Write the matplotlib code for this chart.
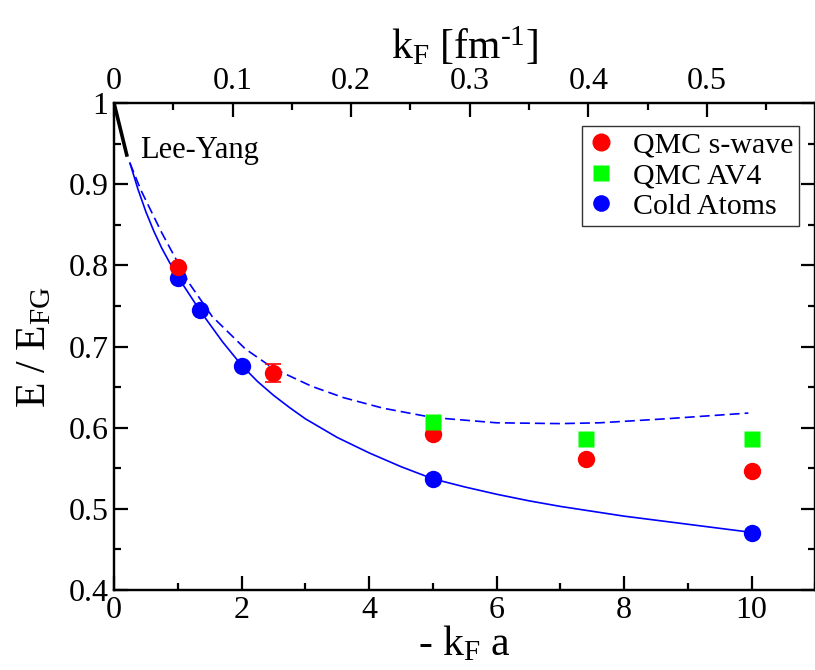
import matplotlib
matplotlib.use("Agg")
import matplotlib.pyplot as plt
from matplotlib.lines import Line2D
from matplotlib.ticker import MultipleLocator, FixedLocator, FixedFormatter

plt.rcParams['font.family'] = ['Liberation Serif', 'DejaVu Serif']
plt.rcParams['mathtext.default'] = 'regular'
plt.rcParams['mathtext.fontset'] = 'custom'
plt.rcParams['mathtext.rm'] = 'Liberation Serif'

# ---- data ----
qmc_s_x = [1.0, 2.5, 5.0, 7.4, 10.0]
qmc_s_y = [0.798, 0.667, 0.592, 0.561, 0.547]
qmc_s_err = [0.0, 0.011, 0.0, 0.0, 0.0]

qmc_av4_x = [5.0, 7.4, 10.0]
qmc_av4_y = [0.607, 0.586, 0.586]

cold_x = [1.0, 1.35, 2.0, 5.0, 10.0]
cold_y = [0.785, 0.745, 0.676, 0.537, 0.470]

solid_x = [0.25, 0.375, 0.5, 0.625, 0.75, 0.875, 1.0, 1.35, 1.7, 2.0, 2.25, 2.5,
           2.75, 3.0, 3.5, 4.0, 4.5, 5.0, 5.5, 6.0, 6.5, 7.0, 7.5, 8.0, 8.5,
           9.0, 9.5, 10.0]
solid_y = [0.926, 0.894, 0.866, 0.842, 0.821, 0.803, 0.786, 0.744, 0.706, 0.677,
           0.657, 0.640, 0.625, 0.611, 0.588, 0.569, 0.552, 0.537, 0.527, 0.518,
           0.510, 0.503, 0.497, 0.491, 0.486, 0.481, 0.476, 0.471]

dashed_x = [0.25, 0.42, 0.6, 0.75, 0.88, 1.17, 1.54, 2.06, 2.5, 3.1, 3.6, 4.22,
            5.0, 6.0, 7.0, 7.62, 8.67, 9.95]
dashed_y = [0.926, 0.893, 0.864, 0.840, 0.821, 0.779, 0.737, 0.697, 0.673, 0.651,
            0.637, 0.624, 0.6125, 0.606, 0.605, 0.606, 0.611, 0.618]

leeyang_x = [0.0, 0.2]
leeyang_y = [1.0, 0.936]

bottom_ticks = [0, 2, 4, 6, 8, 10]
bottom_labels = ["0", "2", "4", "6", "8", "10"]
left_ticks = [0.4, 0.5, 0.6, 0.7, 0.8, 0.9, 1.0]
left_labels = ["0.4", "0.5", "0.6", "0.7", "0.8", "0.9", "1"]
top_ticks = [0.0, 0.1, 0.2, 0.3, 0.4, 0.5]
top_labels = ["0", "0.1", "0.2", "0.3", "0.4", "0.5"]
scattering_length = 18.6  # fm, maps -kF a to kF

# ---- figure ----
W, H = 815, 670
fig = plt.figure(figsize=(W / 100, H / 100), dpi=100)
left, right, top, bottom = 114, 815.3, 103, 590
ax = fig.add_axes([left / W, 1 - bottom / H, (right - left) / W, (bottom - top) / H])

ax.plot(solid_x, solid_y, color='#0000ff', lw=1.2, zorder=2)
ax.plot(dashed_x, dashed_y, color='#0000ff', lw=1.2, dashes=(6, 3), zorder=2)
ax.plot(leeyang_x, leeyang_y, color='black', lw=2.6, zorder=2)

ax.errorbar(qmc_s_x, qmc_s_y, yerr=qmc_s_err, fmt='o', color='#ff0000', ms=12.5,
            mec='none', capsize=6, elinewidth=1.2, capthick=1.2, zorder=3)
ax.plot(qmc_av4_x, qmc_av4_y, 's', color='#00ff00', ms=11, mec='none', zorder=4)
ax.plot(cold_x, cold_y, 'o', color='#0000ff', ms=12.5, mec='none', zorder=3)

ax.text(0.41, 0.932, 'Lee-Yang', fontsize=22, ha='left', va='baseline')

ax.set_xlim(0, 11)
ax.set_ylim(0.4, 1.0)
ax.xaxis.set_major_locator(FixedLocator(bottom_ticks))
ax.xaxis.set_major_formatter(FixedFormatter(bottom_labels))
ax.xaxis.set_minor_locator(MultipleLocator(1))
ax.yaxis.set_major_locator(FixedLocator(left_ticks))
ax.yaxis.set_major_formatter(FixedFormatter(left_labels))
ax.yaxis.set_minor_locator(MultipleLocator(0.05))

for s in ax.spines.values():
    s.set_linewidth(1.6)

ax.tick_params(which='major', direction='in', length=10, width=1.6, labelsize=23, pad=4)
ax.tick_params(which='minor', direction='in', length=5, width=1.6)
ax.tick_params(axis='y', which='both', right=True, labelright=False)
ax.tick_params(axis='x', which='both', top=False)

ax.set_xlabel('- k$_F$ a', fontsize=30, labelpad=0)
ax.set_ylabel('E / E$_{FG}$', fontsize=30, labelpad=10)

ax2 = ax.twiny()
ax2.set_xlim(0, 11 / scattering_length)
ax2.xaxis.set_major_locator(FixedLocator(top_ticks))
ax2.xaxis.set_major_formatter(FixedFormatter(top_labels))
ax2.xaxis.set_minor_locator(MultipleLocator(0.05))
ax2.tick_params(which='major', direction='in', length=10, width=1.6, labelsize=23, pad=5)
ax2.tick_params(which='minor', direction='in', length=5, width=1.6)
for s in ax2.spines.values():
    s.set_linewidth(1.6)
ax2.set_xlabel('k$_F$ [fm$^{\u2010 1}$]', fontsize=30, labelpad=6)

handles = [
    Line2D([], [], ls='none', marker='o', color='#ff0000', mec='none', ms=13),
    Line2D([], [], ls='none', marker='s', color='#00ff00', mec='none', ms=11),
    Line2D([], [], ls='none', marker='o', color='#0000ff', mec='none', ms=12),
]
labels = ['QMC s-wave', 'QMC AV4', 'Cold Atoms']
leg = ax.legend(handles, labels, loc='upper right', bbox_to_anchor=(799 / W, 1 - 126 / H),
                bbox_transform=fig.transFigure, fontsize=21.5, frameon=True,
                fancybox=False, edgecolor='black', borderaxespad=0,
                handlelength=0.9, handletextpad=0.6, borderpad=0.2,
                labelspacing=0.12)
leg.get_frame().set_linewidth(1.0)

fig.savefig('out.png', dpi=100)
